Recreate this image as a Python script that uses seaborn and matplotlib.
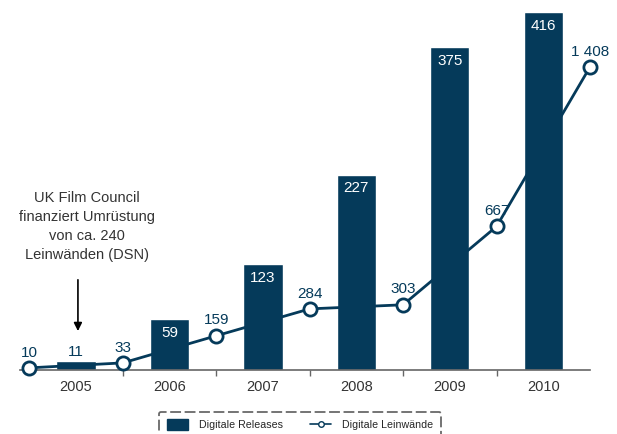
import numpy as np
import pandas as pd
import seaborn as sns
import matplotlib.pyplot as plt
from matplotlib.patches import Patch
from matplotlib.lines import Line2D

years = ['2005', '2006', '2007', '2008', '2009', '2010']
releases = [11, 59, 123, 227, 375, 416]
screen_pos = [-0.5, 0.5, 1.5, 2.5, 3.5, 4.5, 5.5]
screens = [10, 33, 159, 284, 303, 667, 1408]
screen_labels = ['10', '33', '159', '284', '303', '667', '1 408']

navy = '#053a5a'
grey_txt = '#333333'

sns.set_theme(style='white')
plt.rcParams['font.family'] = ['Liberation Sans', 'DejaVu Sans']

fig = plt.figure(figsize=(6.17, 4.34), dpi=100)
ax = fig.add_axes([20 / 617, 64 / 434, 570 / 617, 365 / 434])

df_bar = pd.DataFrame({'year': years, 'releases': releases})
sns.barplot(data=df_bar, x='year', y='releases', color=navy, saturation=1,
            width=0.42, ax=ax)
for i, v in enumerate(releases):
    if v < 30:
        ax.text(i, v + 2, str(v), ha='center', va='bottom', color=navy, fontsize=11)
    else:
        ax.text(i, v - 8, str(v), ha='center', va='top', color='white', fontsize=11)

ax.set_xlim(-0.6, 5.5)
ax.set_ylim(0, 424)
ax.set_xlabel('')
ax.set_ylabel('')
ax.set_yticks([])
for s in ['left', 'right', 'top']:
    ax.spines[s].set_visible(False)
ax.spines['bottom'].set_color('#666666')
ax.spines['bottom'].set_linewidth(1.2)
ax.set_xticks(range(len(years)))
ax.set_xticklabels(years)
ax.set_xticks([0.5, 1.5, 2.5, 3.5, 4.5], minor=True)
ax.tick_params(axis='x', which='major', length=0, labelsize=10.5,
               labelcolor=grey_txt, pad=7)
ax.tick_params(axis='x', which='minor', bottom=True, length=4, width=1,
               color='#666666', direction='out')

ax2 = ax.twinx()
df_line = pd.DataFrame({'pos': screen_pos, 'screens': screens})
sns.lineplot(data=df_line, x='pos', y='screens', color=navy, linewidth=2,
             marker='o', markersize=9.5, markerfacecolor='white',
             markeredgecolor=navy, markeredgewidth=2, ax=ax2, clip_on=False)
for x, v, lab in zip(screen_pos, screens, screen_labels):
    ax2.annotate(lab, (x, v), xytext=(0, 6), textcoords='offset points',
                 ha='center', va='bottom', color=navy, fontsize=11)
ax2.set_ylim(0, 424 * 4)
ax2.set_xlim(-0.6, 5.5)
ax2.set_yticks([])
ax2.set_ylabel('')
ax2.set_xlabel('')
for s in ['left', 'right', 'top', 'bottom']:
    ax2.spines[s].set_visible(False)

ax.text(0.12, 126, 'UK Film Council\nfinanziert Umrüstung\nvon ca. 240\nLeinwänden (DSN)',
        ha='center', va='bottom', multialignment='center', fontsize=10.5,
        color=grey_txt, linespacing=1.43)
ax.annotate('', xy=(0.02, 42), xytext=(0.02, 108),
            arrowprops=dict(arrowstyle='-|>', color='black', lw=1.2,
                            mutation_scale=12))

handles = [Patch(facecolor=navy, edgecolor=navy),
           Line2D([], [], color=navy, lw=1.2, marker='o', markersize=4,
                  markerfacecolor='white', markeredgecolor=navy)]
leg = fig.legend(handles, ['Digitale Releases', 'Digitale Leinwände'],
                 loc='upper left', bbox_to_anchor=(154 / 617, 0.064, 292 / 617, 0),
                 mode='expand', ncol=2,
                 fontsize=7.7, frameon=True, fancybox=True, edgecolor='#444444',
                 handlelength=2.0, handleheight=1.15,
                 handletextpad=1.0, borderpad=0.7)
leg.get_frame().set_linestyle((0, (6, 2)))
leg.get_frame().set_linewidth(1.3)

fig.savefig('out.png', dpi=100)
